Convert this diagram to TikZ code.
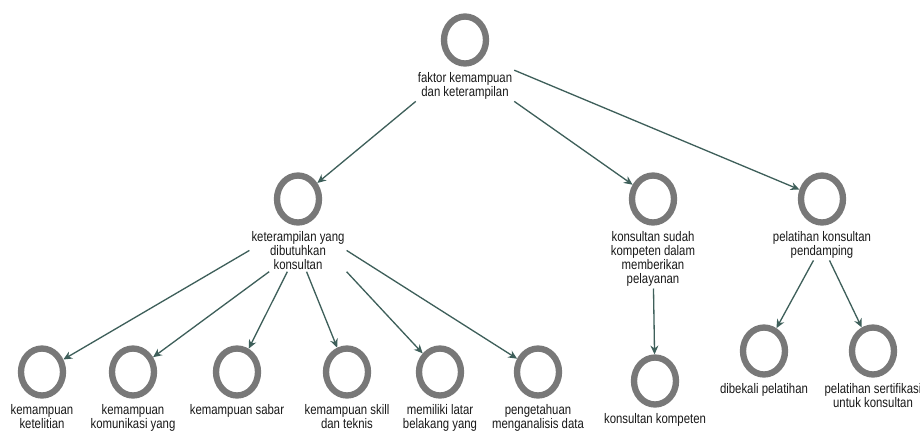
\documentclass[tikz,border=0pt]{standalone}
\usepackage{fontspec}
\setmainfont{Liberation Sans}[FakeStretch=0.82]
\usetikzlibrary{arrows.meta,positioning,shapes.geometric}
\definecolor{ringgray}{HTML}{787878}
\definecolor{arrowteal}{HTML}{3E5F5A}
\tikzset{
  ring/.style={draw=ringgray, ellipse, line width=3.6pt, minimum width=0.84cm, minimum height=0.94cm, inner sep=0pt},
  caption/.style={align=center, font=\fontsize{7.9}{8}\selectfont, inner sep=1pt, text=black!90},
  link/.style={draw=arrowteal, line width=0.75pt, -{Stealth[length=5pt,width=4.5pt]}}
}

\begin{document}
\begin{tikzpicture}[x=0.02cm, y=-0.02cm]
		%%%%% START %%%%%
		\useasboundingbox (0,0) rectangle (920,434);
		
		% root
		\node[ring] (faktor) at (465, 40) {};
		\node[caption, below=2pt of faktor] (faktor-t) {faktor kemampuan\\dan keterampilan};
		
		% second level
		\node[ring] (butuh) at (298, 199) {};
		\node[caption, below=2pt of butuh] (butuh-t) {keterampilan yang\\dibutuhkan\\konsultan};
		\node[ring] (sudah) at (653, 199) {};
		\node[caption, below=2pt of sudah] (sudah-t) {konsultan sudah\\kompeten dalam\\memberikan\\pelayanan};
		\node[ring] (latih) at (822, 199) {};
		\node[caption, below=2pt of latih] (latih-t) {pelatihan konsultan\\pendamping};
		
		% third level
		\node[ring] (teliti) at (42, 372) {};
		\node[caption, below=2pt of teliti] (teliti-t) {kemampuan\\ketelitian};
		\node[ring] (komun) at (133, 372) {};
		\node[caption, below=2pt of komun] (komun-t) {kemampuan\\komunikasi yang};
		\node[ring] (sabar) at (237, 372) {};
		\node[caption, below=2pt of sabar] (sabar-t) {kemampuan sabar};
		\node[ring] (skill) at (347, 372) {};
		\node[caption, below=2pt of skill] (skill-t) {kemampuan skill\\dan teknis};
		\node[ring] (latar) at (440, 372) {};
		\node[caption, below=2pt of latar] (latar-t) {memiliki latar\\belakang yang};
		\node[ring] (data) at (538, 372) {};
		\node[caption, below=2pt of data] (data-t) {pengetahuan\\menganalisis data};
		
		\node[ring] (kompeten) at (655, 381) {};
		\node[caption, below=2pt of kompeten] (kompeten-t) {konsultan kompeten};
		
		\node[ring] (bekal) at (764, 351) {};
		\node[caption, below=2pt of bekal] (bekal-t) {dibekali pelatihan};
		\node[ring] (sertif) at (873, 351) {};
		\node[caption, below=2pt of sertif] (sertif-t) {pelatihan sertifikasi\\untuk konsultan};
		
		% links
		\draw[link] (faktor-t.south west) -- (butuh);
		\draw[link] (faktor-t.south east) -- (sudah);
		\draw[link] (faktor-t.north east) -- (latih);
		
		\draw[link] (butuh-t.west) -- (teliti);
		\draw[link] (butuh-t) -- (komun);
		\draw[link] (butuh-t) -- (sabar);
		\draw[link] (butuh-t) -- (skill);
		\draw[link] (butuh-t.south east) -- (latar);
		\draw[link] (butuh-t.east) -- (data);
		
		\draw[link] (sudah-t) -- (kompeten);
		\draw[link] (latih-t) -- (bekal);
		\draw[link] (latih-t) -- (sertif);
		%%%%% END %%%%%
	\end{tikzpicture}
\end{document}
